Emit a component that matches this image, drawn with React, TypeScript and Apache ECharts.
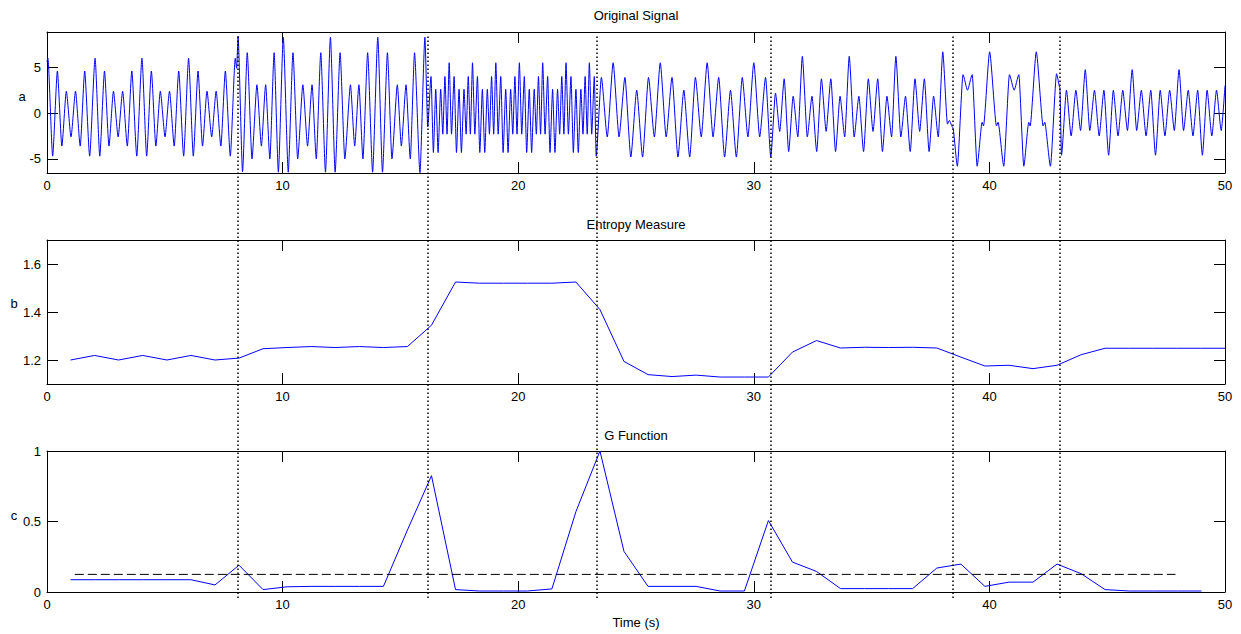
import React, { useEffect, useRef } from "react";
import * as echarts from "echarts";

const FONT = '"Liberation Sans", Arial, Helvetica, sans-serif';

// ---- axes / ticks ----
const timeRange = [0, 50];
const timeInterval = 10;
const signalRange = [-6.54, 8.86];
const entropyRange = [1.1, 1.7];
const gRange = [0, 1];
const signalTicks = [-5, 0, 5];
const entropyTicks = [1.2, 1.4, 1.6];
const gTicks = [0, 0.5, 1];

// ---- detected change points (dotted verticals) ----
const changePoints = [8.09, 16.16, 23.32, 30.71, 38.46, 43.0];

// ---- windowed measures ----
const windowTimes = [
  1.0, 2.02, 3.04, 4.06, 5.09, 6.11, 7.13, 8.15, 9.17, 10.19, 11.21, 12.23,
  13.26, 14.28, 15.3, 16.32, 17.34, 18.36, 19.38, 20.4, 21.43, 22.45, 23.47,
  24.49, 25.51, 26.53, 27.55, 28.57, 29.6, 30.62, 31.64, 32.66, 33.68, 34.7,
  35.72, 36.74, 37.77, 38.79, 39.81, 40.83, 41.85, 42.87, 43.89, 44.91, 45.94,
  46.96, 47.98, 49.0,
];
const entropyTimes = [
  1.0, 2.02, 3.04, 4.06, 5.09, 6.11, 7.13, 8.15, 9.17, 10.19, 11.21, 12.23,
  13.26, 14.28, 15.3, 16.32, 17.34, 18.36, 19.38, 20.4, 21.43, 22.45, 23.47,
  24.49, 25.51, 26.53, 27.55, 28.57, 29.6, 30.62, 31.64, 32.66, 33.68, 34.7,
  35.72, 36.74, 37.77, 38.79, 39.81, 40.83, 41.85, 42.87, 43.89, 44.91, 45.94,
  46.96, 47.98, 49.0, 50.0,
];
const entropyValues = [
  1.2, 1.219, 1.2, 1.219, 1.2, 1.219, 1.2, 1.208, 1.247, 1.252, 1.256, 1.252,
  1.256, 1.252, 1.256, 1.345, 1.525, 1.52, 1.52, 1.52, 1.52, 1.525, 1.41,
  1.194, 1.139, 1.131, 1.137, 1.129, 1.129, 1.129, 1.233, 1.281, 1.25, 1.253,
  1.252, 1.253, 1.25, 1.212, 1.175, 1.178, 1.164, 1.178, 1.222, 1.249, 1.249,
  1.249, 1.249, 1.249, 1.249,
];
const gValues = [
  0.087, 0.087, 0.087, 0.087, 0.087, 0.087, 0.05, 0.19, 0.017, 0.037, 0.04,
  0.04, 0.04, 0.04, 0.44, 0.825, 0.017, 0.007, 0.007, 0.007, 0.022, 0.57, 1.0,
  0.288, 0.04, 0.04, 0.04, 0.007, 0.007, 0.507, 0.212, 0.146, 0.024, 0.024,
  0.024, 0.024, 0.17, 0.198, 0.04, 0.07, 0.07, 0.198, 0.13, 0.017, 0.007,
  0.007, 0.007, 0.007,
];
const thresholdX = [1.18, 47.9];
const thresholdValue = 0.125;

// ---- original signal, turning points, per segment ----
const signalSeg1 = [
  [0.0, 5.6], [0.04, 6.0], [0.24, -4.7], [0.44, 4.6], [0.63, -3.6], [0.82, 2.4], [1.02, -2.6], [1.21, 2.4], [1.41, -3.6], [1.6, 4.6], [1.81, -4.7],
  [2.04, 6.0], [2.24, -4.7], [2.44, 4.6], [2.63, -3.6], [2.82, 2.4], [3.02, -2.6], [3.21, 2.4], [3.41, -3.6], [3.6, 4.6], [3.81, -4.7],
  [4.03, 6.0], [4.23, -4.7], [4.43, 4.6], [4.62, -3.6], [4.81, 2.4], [5.01, -2.6], [5.2, 2.4], [5.4, -3.6], [5.59, 4.6], [5.8, -4.7],
  [6.01, 6.0], [6.21, -4.7], [6.41, 4.6], [6.6, -3.6], [6.79, 2.4], [6.99, -2.6], [7.18, 2.4], [7.38, -3.6], [7.57, 4.6], [7.78, -4.7],
  [7.99, 6.0], [8.05, 4.9],
];
const signalSeg2 = [
  [8.11, 8.4], [8.3, -6.4], [8.5, 6.6], [8.7, -5.0], [8.91, 3.1], [9.1, -3.6], [9.28, 3.1], [9.46, -5.0], [9.64, 6.6], [9.82, -6.45],
  [10.03, 8.3], [10.24, -6.45], [10.44, 6.6], [10.64, -5.0], [10.86, 3.1], [11.06, -3.6], [11.25, 3.1], [11.43, -5.0], [11.62, 6.6], [11.82, -6.45],
  [12.03, 8.3], [12.23, -6.45], [12.44, 6.6], [12.64, -5.0], [12.88, 3.1], [13.06, -3.6], [13.24, 3.1], [13.41, -5.0], [13.61, 6.6], [13.82, -6.45],
  [14.04, 8.3], [14.24, -6.45], [14.45, 6.6], [14.64, -5.0], [14.87, 3.1], [15.04, -3.6], [15.24, 3.1], [15.42, -5.0], [15.6, 6.6], [15.83, -6.5],
  [16.04, 8.3], [16.16, -1.5],
];
const signalSeg3 = [
  [16.3, 4.0], [16.4, -4.3], [16.5, 2.6], [16.6, -4.3], [16.71, 2.6], [16.8, -2.3], [16.89, 4.0], [16.98, -2.3],
  [17.07, 5.5], [17.17, -2.3], [17.28, 4.0], [17.38, -4.3], [17.49, 2.6], [17.59, -4.3], [17.7, 2.6], [17.79, -2.3], [17.88, 4.0], [17.97, -2.3],
  [18.06, 5.5], [18.16, -2.3], [18.27, 4.0], [18.37, -4.3], [18.48, 2.6], [18.58, -4.3], [18.69, 2.6], [18.78, -2.3], [18.87, 4.0], [18.96, -2.3],
  [19.05, 5.5], [19.15, -2.3], [19.26, 4.0], [19.36, -4.3], [19.47, 2.6], [19.57, -4.3], [19.68, 2.6], [19.77, -2.3], [19.86, 4.0], [19.95, -2.3],
  [20.05, 5.5], [20.15, -2.3], [20.26, 4.0], [20.36, -4.3], [20.47, 2.6], [20.57, -4.3], [20.68, 2.6], [20.77, -2.3], [20.86, 4.0], [20.95, -2.3],
  [21.04, 5.5], [21.14, -2.3], [21.25, 4.0], [21.35, -4.3], [21.46, 2.6], [21.56, -4.3], [21.67, 2.6], [21.76, -2.3], [21.85, 4.0], [21.94, -2.3],
  [22.03, 5.5], [22.13, -2.3], [22.24, 4.0], [22.34, -4.3], [22.45, 2.6], [22.55, -4.3], [22.66, 2.6], [22.75, -2.3], [22.84, 4.0], [22.93, -2.3],
  [23.02, 5.5], [23.12, -2.3], [23.23, 4.0],
];
const signalSeg4 = [
  [23.31, -4.7], [23.53, 3.9], [23.78, -2.6],
  [24.03, 5.5], [24.28, -2.6], [24.53, 3.9], [24.78, -4.8], [25.03, 2.5], [25.28, -4.8], [25.53, 3.9], [25.78, -2.6],
  [26.03, 5.5], [26.28, -2.6], [26.53, 3.9], [26.78, -4.8], [27.03, 2.5], [27.28, -4.8], [27.52, 3.9], [27.77, -2.6],
  [28.02, 5.5], [28.27, -2.6], [28.51, 3.9], [28.76, -4.8], [29.01, 2.5], [29.26, -4.8], [29.51, 3.9], [29.75, -2.6],
  [30.0, 5.5], [30.25, -2.6], [30.5, 3.9], [30.72, -4.8],
];
const signalSeg5 = [
  [30.92, 2.2], [31.1, -2.0], [31.29, 3.75], [31.48, -4.2], [31.67, 1.85], [31.87, -2.6],
  [32.06, 6.2], [32.27, -2.6], [32.47, 1.85], [32.67, -4.2], [32.87, 3.75], [33.07, -2.0], [33.27, 3.75], [33.47, -4.2], [33.66, 1.85], [33.86, -2.6],
  [34.05, 6.2], [34.26, -2.6], [34.46, 1.85], [34.66, -4.2], [34.86, 3.75], [35.06, -2.0], [35.26, 3.75], [35.46, -4.2], [35.65, 1.85], [35.85, -2.6],
  [36.03, 6.2], [36.24, -2.6], [36.44, 1.85], [36.64, -4.2], [36.84, 3.75], [37.04, -2.0], [37.24, 3.75], [37.44, -4.2], [37.63, 1.85], [37.83, -2.6],
  [38.02, 6.7], [38.22, -1.2], [38.3, -0.8], [38.45, -1.6],
];
const signalSeg6 = [
  [38.64, -5.8], [38.88, 4.2], [39.07, 2.5], [39.27, 4.2], [39.48, -5.8], [39.69, -1.0], [39.75, -1.4],
  [40.01, 6.7], [40.3, -1.4], [40.37, -1.0], [40.61, -5.8], [40.85, 4.2], [41.05, 2.5], [41.25, 4.2], [41.46, -5.8], [41.67, -1.0], [41.73, -1.4],
  [41.99, 6.7], [42.28, -1.4], [42.35, -1.0], [42.59, -5.8], [42.85, 4.3], [42.99, 2.8],
];
const signalSeg7 = [
  [43.06, -4.6], [43.27, 2.5], [43.47, -2.5], [43.67, 2.5], [43.87, -1.9],
  [44.07, 4.75], [44.26, -1.9], [44.46, 2.5], [44.66, -2.5], [44.86, 2.5], [45.06, -4.6], [45.26, 2.5], [45.46, -2.5], [45.66, 2.5], [45.86, -1.9],
  [46.06, 4.75], [46.25, -1.9], [46.45, 2.5], [46.65, -2.5], [46.85, 2.5], [47.05, -4.6], [47.25, 2.5], [47.45, -2.5], [47.65, 2.5], [47.85, -1.9],
  [48.05, 4.75], [48.24, -1.9], [48.44, 2.5], [48.64, -2.5], [48.84, 2.5], [49.04, -4.6], [49.24, 2.5], [49.44, -2.5], [49.64, 2.5], [49.84, -1.9],
  [50.0, 3.0],
];

const BLUE = "#0000ff";

function xAxisPair(gridIndex: number) {
  const common = {
    type: "value",
    gridIndex,
    min: timeRange[0],
    max: timeRange[1],
    interval: timeInterval,
    splitLine: { show: false },
    axisLine: { show: true, onZero: false, lineStyle: { color: "#000", width: 1 } },
    axisTick: { show: true, inside: true, length: 11, lineStyle: { color: "#000", width: 1 } },
  };
  return [
    {
      ...common,
      position: "bottom",
      axisLabel: { show: true, margin: 6, color: "#000", fontSize: 13, fontFamily: FONT },
    },
    { ...common, position: "top", axisLabel: { show: false } },
  ];
}

function yAxisPair(gridIndex: number, range: number[], ticks: number[]) {
  const common = {
    type: "value",
    gridIndex,
    min: range[0],
    max: range[1],
    splitLine: { show: false },
    axisLine: { show: true, onZero: false, lineStyle: { color: "#000", width: 1 } },
    axisTick: {
      show: true,
      inside: true,
      length: 11,
      customValues: ticks,
      lineStyle: { color: "#000", width: 1 },
    },
  };
  return [
    {
      ...common,
      position: "left",
      axisLabel: {
        show: true,
        margin: 6,
        color: "#000",
        fontSize: 13,
        fontFamily: FONT,
        customValues: ticks,
      },
    },
    { ...common, position: "right", axisLabel: { show: false, customValues: ticks } },
  ];
}

function textEl(text: string, x: number, y: number) {
  return {
    type: "text",
    silent: true,
    style: {
      text,
      x,
      y,
      textAlign: "center",
      textVerticalAlign: "middle",
      fontSize: 13,
      fontFamily: FONT,
      fill: "#000",
    },
  };
}

export default function App() {
  const ref = useRef<HTMLDivElement>(null);

  useEffect(() => {
    if (!ref.current) return;
    const chart = echarts.init(ref.current, null, { renderer: "svg" });

    const signalData = [
      ...signalSeg1,
      ...signalSeg2,
      ...signalSeg3,
      ...signalSeg4,
      ...signalSeg5,
      ...signalSeg6,
      ...signalSeg7,
    ];
    const entropyData = entropyTimes.map((t, i) => [t, entropyValues[i]]);
    const gData = windowTimes.map((t, i) => [t, gValues[i]]);
    const thresholdData = thresholdX.map((t) => [t, thresholdValue]);

    const option: any = {
      animation: false,
      backgroundColor: "#ffffff",
      grid: [
        { left: 47, top: 32, width: 1178, height: 141 },
        { left: 47, top: 240, width: 1178, height: 144 },
        { left: 47, top: 451, width: 1178, height: 141 },
        { left: 47, top: 35, width: 1178, height: 563 },
      ],
      xAxis: [
        ...xAxisPair(0),
        ...xAxisPair(1),
        ...xAxisPair(2),
        { type: "value", gridIndex: 3, min: timeRange[0], max: timeRange[1], show: false },
      ],
      yAxis: [
        ...yAxisPair(0, signalRange, signalTicks),
        ...yAxisPair(1, entropyRange, entropyTicks),
        ...yAxisPair(2, gRange, gTicks),
        { type: "value", gridIndex: 3, min: 0, max: 1, show: false },
      ],
      series: [
        {
          type: "line",
          name: "signal",
          xAxisIndex: 0,
          yAxisIndex: 0,
          data: signalData,
          symbol: "none",
          smooth: 0.2,
          smoothMonotone: "x",
          lineStyle: { color: BLUE, width: 1 },
          silent: true,
        },
        {
          type: "line",
          name: "entropy",
          xAxisIndex: 2,
          yAxisIndex: 2,
          data: entropyData,
          symbol: "none",
          lineStyle: { color: BLUE, width: 1 },
          silent: true,
        },
        {
          type: "line",
          name: "G",
          xAxisIndex: 4,
          yAxisIndex: 4,
          data: gData,
          symbol: "none",
          lineStyle: { color: BLUE, width: 1 },
          silent: true,
        },
        {
          type: "line",
          name: "threshold",
          xAxisIndex: 4,
          yAxisIndex: 4,
          data: thresholdData,
          symbol: "none",
          lineStyle: { color: "#000", width: 1, type: [9, 4] },
          silent: true,
        },
        {
          type: "line",
          name: "changes",
          xAxisIndex: 6,
          yAxisIndex: 6,
          data: [
            [timeRange[0], 0],
            [timeRange[1], 0],
          ],
          symbol: "none",
          lineStyle: { opacity: 0 },
          silent: true,
          z: 10,
          markLine: {
            silent: true,
            symbol: ["none", "none"],
            label: { show: false },
            lineStyle: { color: "#000", width: 1.5, type: [1.5, 2.5] },
            emphasis: { disabled: true },
            data: changePoints.map((x) => ({ xAxis: x })),
          },
        },
      ],
      graphic: [
        textEl("Original Signal", 636, 15),
        textEl("Entropy Measure", 636, 224),
        textEl("G Function", 636, 435),
        textEl("Time (s)", 636, 622),
        textEl("a", 22, 96),
        textEl("b", 14, 303),
        textEl("c", 14, 515),
      ],
    };

    chart.setOption(option);
    return () => chart.dispose();
  }, []);

  return (
    <div
      ref={ref}
      style={{
        position: "fixed",
        left: 0,
        top: 0,
        width: 1241,
        height: 634,
        background: "#fff",
      }}
    />
  );
}
